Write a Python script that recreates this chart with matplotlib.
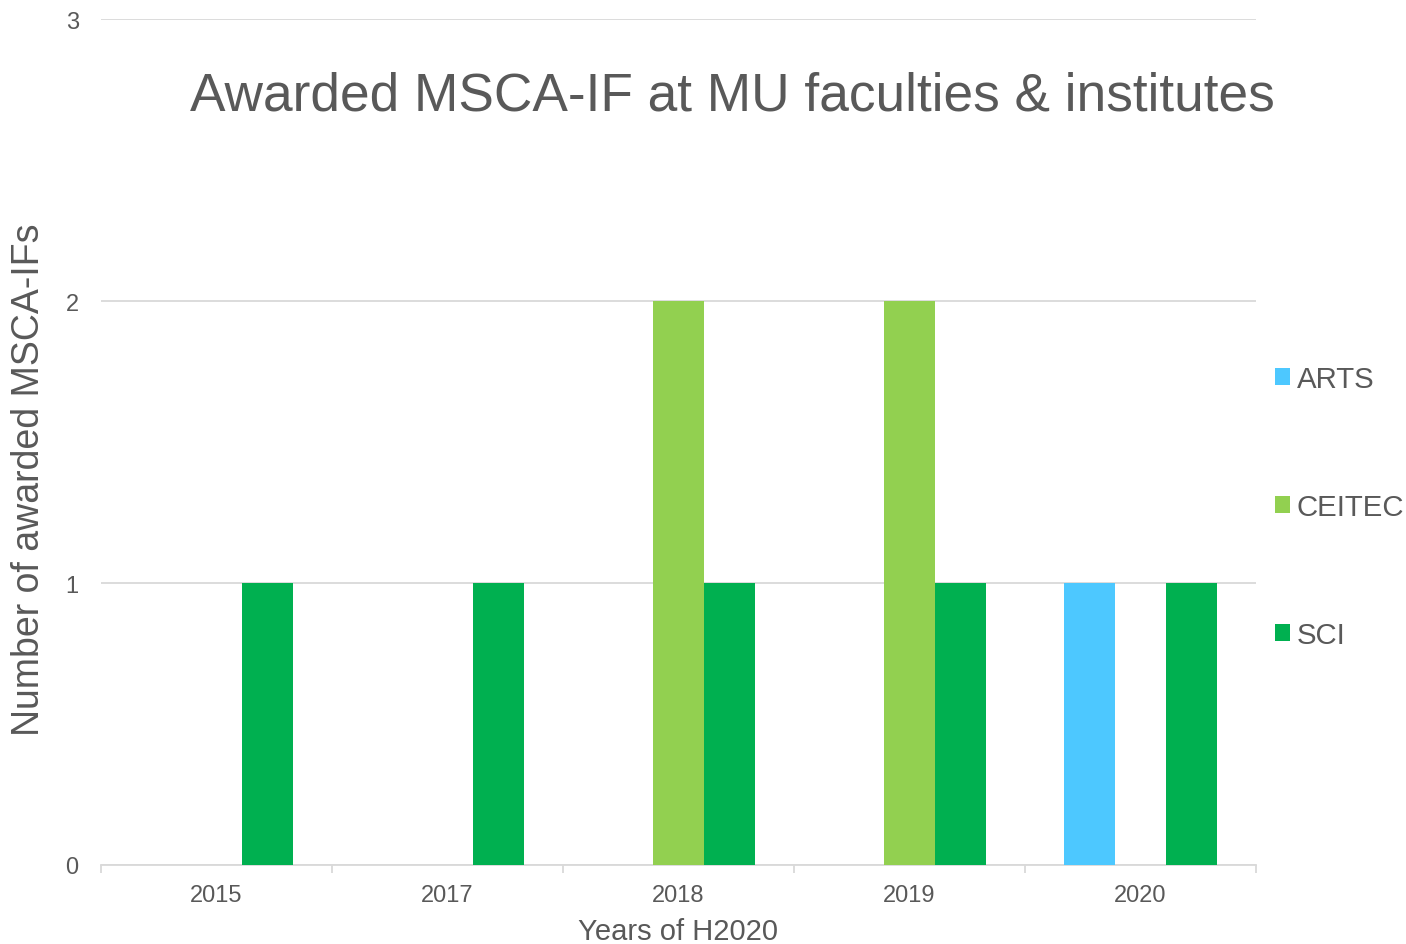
import matplotlib.pyplot as plt
import numpy as np

# dados do grafico
anos = ['2015', '2017', '2018', '2019', '2020']
arts = [0, 0, 0, 0, 1]
ceitec = [0, 0, 2, 2, 0]
sci = [1, 1, 1, 1, 1]

series = ['ARTS', 'CEITEC', 'SCI']
cores = ['#4DC8FF', '#92D050', '#00B050']

cinza = '#595959'
plt.rcParams['font.family'] = ['Liberation Sans', 'DejaVu Sans']

fig = plt.figure(figsize=(14.06, 9.45), dpi=100)
ax = fig.add_axes([0.0718, 0.0836, 0.8215, 0.8952])

x = np.arange(len(anos))
largura = 0.22
for i, (valores, nome, cor) in enumerate(zip([arts, ceitec, sci], series, cores)):
    ax.bar(x + (i - 1) * largura, valores, largura, color=cor, label=nome, zorder=3)

ax.set_xlim(-0.5, len(anos) - 0.5)
ax.set_ylim(0, 3)
ax.set_yticks([0, 1, 2, 3])
ax.yaxis.grid(True, color='#D9D9D9', linewidth=1.3, zorder=0)
ax.tick_params(axis='y', length=0, pad=16, labelsize=17, labelcolor=cinza)

# ticks do eixo x nas divisoes das categorias
ax.set_xticks(x)
ax.set_xticklabels(anos)
ax.set_xticks(np.arange(-0.5, len(anos)), minor=True)
ax.tick_params(axis='x', which='major', length=0, pad=14, labelsize=17, labelcolor=cinza)
ax.tick_params(axis='x', which='minor', length=6, color='#D9D9D9', width=1.3)

for lado in ['top', 'right', 'left']:
    ax.spines[lado].set_visible(False)
ax.spines['bottom'].set_color('#D9D9D9')
ax.spines['bottom'].set_linewidth(1.3)

ax.set_xlabel('Years of H2020', fontsize=21, color=cinza)
ax.xaxis.set_label_coords(0.5, -0.061)
ax.set_ylabel('Number of awarded MSCA-IFs', fontsize=27, color=cinza)
ax.yaxis.set_label_coords(-0.047, 0.456)

fig.text(0.521, 0.898, 'Awarded MSCA-IF at MU faculties & institutes',
         fontsize=38.3, color=cinza, ha='center', va='center')

ax.legend(loc='center left', bbox_to_anchor=(1.006, 0.423), frameon=False,
          fontsize=21.2, labelcolor=cinza, handlelength=0.51, handleheight=0.51,
          handletextpad=0.24, labelspacing=3.4, borderaxespad=0)

plt.savefig('out.png', dpi=100)
